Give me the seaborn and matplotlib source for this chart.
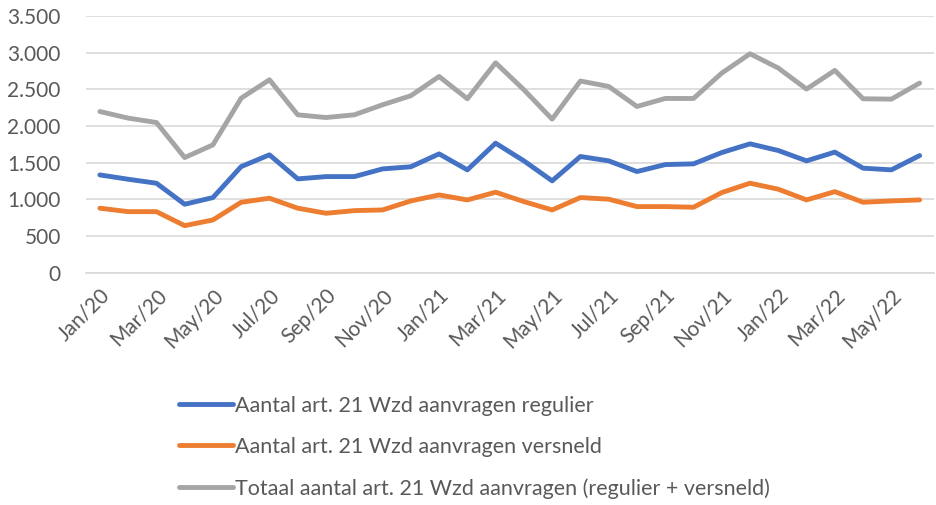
import matplotlib
matplotlib.use("Agg")
import matplotlib.pyplot as plt
from matplotlib.ticker import FuncFormatter, FixedLocator
import pandas as pd
import seaborn as sns

# maanden Jan/20 t/m Jun/22
maanden = ["Jan/20", "Feb/20", "Mar/20", "Apr/20", "May/20", "Jun/20", "Jul/20", "Aug/20", "Sep/20", "Oct/20",
           "Nov/20", "Dec/20", "Jan/21", "Feb/21", "Mar/21", "Apr/21", "May/21", "Jun/21", "Jul/21", "Aug/21",
           "Sep/21", "Oct/21", "Nov/21", "Dec/21", "Jan/22", "Feb/22", "Mar/22", "Apr/22", "May/22", "Jun/22"]

regulier = [1334, 1275, 1221, 934, 1025, 1448, 1608, 1280, 1311, 1311,
            1416, 1445, 1621, 1403, 1767, 1526, 1253, 1585, 1526, 1380,
            1475, 1485, 1639, 1758, 1667, 1526, 1645, 1426, 1403, 1598]

versneld = [880, 833, 833, 642, 720, 961, 1016, 880, 811, 847,
            856, 979, 1061, 993, 1098, 970, 856, 1025, 1003, 902,
            902, 893, 1093, 1221, 1139, 993, 1106, 961, 979, 993]

totaal = [2199, 2109, 2049, 1571, 1744, 2382, 2632, 2154, 2117, 2154,
          2291, 2414, 2677, 2373, 2864, 2496, 2095, 2615, 2541, 2268,
          2377, 2377, 2723, 2987, 2792, 2505, 2760, 2373, 2368, 2587]

reeksen = ["Aantal art. 21 Wzd aanvragen regulier",
           "Aantal art. 21 Wzd aanvragen versneld",
           "Totaal aantal art. 21 Wzd aanvragen (regulier + versneld)"]
kleuren = ["#4472C4", "#ED7D31", "#A5A5A5"]

df = pd.DataFrame({"pos": list(range(len(maanden))) * 3,
                   "waarde": regulier + versneld + totaal,
                   "reeks": [r for r in reeksen for _ in maanden]})

sns.set_style("white")
plt.rcParams["font.family"] = ["Lato", "DejaVu Sans"]

fig = plt.figure(figsize=(9.36, 5.05), dpi=100)
ax = fig.add_axes([0.0916, 0.46, 0.906, 0.508])

sns.lineplot(data=df, x="pos", y="waarde", hue="reeks", palette=kleuren, hue_order=reeksen,
             linewidth=3.5, ax=ax, legend=False)

ax.set_ylim(0, 3500)
ax.set_xlim(-0.5, len(maanden) - 0.5)
ax.set_yticks(range(0, 3501, 500))
ax.yaxis.set_major_formatter(FuncFormatter(lambda v, p: f"{v:,.0f}".replace(",", ".")))
ax.grid(axis="y", color="#D9D9D9", linewidth=1.2)
ax.set_axisbelow(True)
ax.set(xlabel="", ylabel="")

ax.xaxis.set_major_locator(FixedLocator(list(range(0, len(maanden), 2))))
ax.set_xticklabels(maanden[::2], rotation=45, ha="right", rotation_mode="anchor")
ax.xaxis.set_minor_locator(FixedLocator([i - 0.5 for i in range(0, len(maanden) + 1, 2)]))
ax.tick_params(axis="x", which="major", length=0, pad=9, labelsize=15, labelcolor="#595959")
ax.tick_params(axis="x", which="minor", length=6, width=1.2, color="#D9D9D9", direction="out")
ax.tick_params(axis="y", length=0, pad=18, labelsize=15, labelcolor="#595959")

for kant in ["top", "right", "left"]:
    ax.spines[kant].set_visible(False)
ax.spines["bottom"].set_color("#D9D9D9")
ax.spines["bottom"].set_linewidth(1.2)

handles = [plt.Line2D([], [], color=k, linewidth=3.5) for k in kleuren]
fig.legend(handles, reeksen, loc="upper left", bbox_to_anchor=(168 / 936, 1 - 385 / 505), frameon=False,
           fontsize=15.5, labelcolor="#595959", handlelength=2.5, handletextpad=0.1, labelspacing=0.98,
           borderpad=0)

fig.savefig("out.png", dpi=100)
